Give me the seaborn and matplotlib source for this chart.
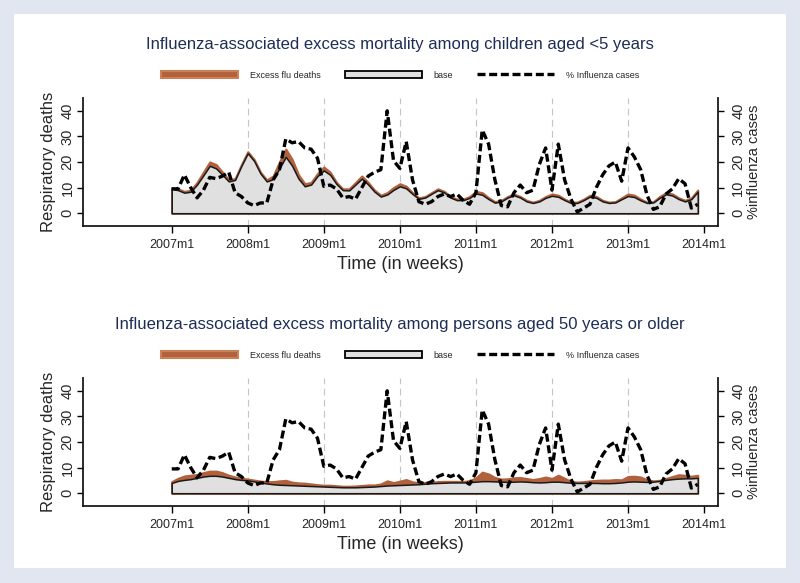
import numpy as np
import pandas as pd
import matplotlib
matplotlib.use("Agg")
import matplotlib.pyplot as plt
import seaborn as sns
from matplotlib.patches import Patch, Rectangle
from matplotlib.lines import Line2D

# ---------------- data ----------------
months = list(range(84))  # 2007m1 .. 2013m12
tick_pos = [0, 12, 24, 36, 48, 60, 72, 84]
tick_labels = ["2007m1", "2008m1", "2009m1", "2010m1", "2011m1", "2012m1", "2013m1", "2014m1"]
y_ticks = [0, 10, 20, 30, 40]

flu_pct = [9.5, 9.5, 15, 10, 6, 9, 14, 13.5, 14.5, 16, 8, 6.5,
           4, 3, 4, 4, 13, 17, 29, 27.5, 28, 25.5, 25, 21.5,
           10.5, 11, 9.5, 6, 6.5, 5.5, 10, 14.5, 16, 17, 40, 20.5,
           17.5, 28, 13, 4.5, 3.5, 4.5, 6.5, 7.5, 6.5, 7.5, 5, 3.5,
           8, 32.5, 27, 13, 3, 2.5, 8, 11, 8, 9, 19, 25.5,
           9, 27, 13, 5.5, 0.5, 2, 3.5, 10, 15, 18.5, 20, 12.5,
           25.5, 22, 17, 7, 1.5, 2.5, 7.5, 9.5, 13.5, 11.5, 2, 3.5]

child_base = [9.5, 9.0, 8.0, 8.4, 11.2, 14.8, 18.5, 17.5, 15.0, 12.4, 13.0, 18.5,
              23.4, 20.4, 15.5, 12.4, 13.3, 17.5, 22.0, 18.5, 13.5, 10.5, 11.2, 14.5,
              16.7, 15.0, 11.4, 9.0, 8.9, 11.2, 13.5, 11.2, 8.4, 6.5, 7.3, 9.1,
              10.5, 9.7, 7.5, 5.6, 6.1, 7.6, 9.0, 8.1, 6.1, 5.1, 5.1, 6.0,
              7.7, 7.2, 5.5, 4.1, 4.6, 6.1, 7.0, 6.1, 4.6, 4.0, 4.6, 6.0,
              6.8, 6.4, 5.1, 4.0, 4.0, 5.1, 6.5, 6.0, 4.6, 4.0, 4.2, 5.5,
              6.7, 6.3, 5.0, 4.0, 4.2, 6.0, 7.4, 6.9, 5.5, 4.6, 5.5, 8.4]
child_excess = [0.5, 0.5, 0.5, 0.6, 0.8, 1.2, 1.5, 1.5, 1.0, 0.6, 0.5, 0.5,
                0.6, 0.6, 0.5, 0.6, 1.2, 2.5, 3.0, 2.5, 1.5, 1.0, 0.8, 1.0,
                1.3, 1.0, 0.6, 0.5, 0.6, 0.8, 1.0, 0.8, 0.6, 0.5, 0.7, 0.9,
                1.0, 0.8, 0.5, 0.4, 0.4, 0.4, 0.5, 0.4, 0.4, 0.4, 0.4, 0.5,
                0.8, 0.8, 0.5, 0.4, 0.4, 0.4, 0.5, 0.4, 0.4, 0.3, 0.4, 0.5,
                0.7, 0.6, 0.4, 0.3, 0.3, 0.4, 0.5, 0.5, 0.4, 0.3, 0.3, 0.5,
                0.8, 0.7, 0.5, 0.3, 0.3, 0.5, 0.6, 0.6, 0.5, 0.4, 0.5, 0.6]

old_base = [4.0, 4.8, 5.2, 5.5, 6.0, 6.5, 6.8, 6.8, 6.5, 6.0, 5.5, 5.2,
            5.0, 4.6, 4.2, 3.8, 3.5, 3.3, 3.2, 3.1, 3.0, 2.9, 2.8, 2.7,
            2.6, 2.5, 2.4, 2.3, 2.3, 2.3, 2.4, 2.5, 2.6, 2.8, 3.0, 3.1,
            3.2, 3.3, 3.4, 3.5, 3.7, 3.9, 4.0, 4.1, 4.2, 4.2, 4.2, 4.3,
            4.5, 4.7, 4.7, 4.6, 4.5, 4.4, 4.5, 4.6, 4.5, 4.3, 4.2, 4.3,
            4.5, 4.5, 4.3, 4.1, 4.0, 4.0, 4.0, 4.0, 3.9, 3.9, 4.0, 4.2,
            4.5, 4.6, 4.5, 4.4, 4.5, 4.8, 5.2, 5.5, 5.7, 5.8, 5.8, 6.0]
old_excess = [0.5, 1.0, 1.5, 1.5, 1.3, 1.5, 1.8, 1.8, 1.5, 1.0, 0.8, 0.6,
              0.5, 0.5, 0.5, 0.7, 1.0, 1.5, 1.8, 1.2, 1.0, 1.0, 0.8, 0.6,
              0.5, 0.6, 0.5, 0.4, 0.4, 0.5, 0.6, 0.7, 0.6, 0.8, 1.8, 1.0,
              1.5, 2.0, 1.0, 0.5, 0.5, 0.3, 0.5, 0.5, 0.4, 0.4, 0.3, 0.6,
              1.5, 3.5, 2.8, 1.5, 1.0, 1.2, 1.5, 1.5, 1.2, 1.0, 1.5, 2.0,
              1.2, 2.5, 1.5, 0.5, 0.3, 0.5, 0.8, 1.0, 1.2, 1.2, 1.3, 1.0,
              2.0, 2.0, 1.8, 0.8, 0.3, 0.2, 0.5, 1.0, 1.5, 1.2, 0.8, 1.0]

titles = ["Influenza-associated excess mortality among children aged <5 years",
          "Influenza-associated excess mortality among persons aged 50 years or older"]
legend_labels = ["Excess flu deaths", "base", "% Influenza cases"]

# ---------------- style ----------------
sns.set_style("ticks")
REG = ["Liberation Sans", "DejaVu Sans"]
plt.rcParams["font.family"] = REG

BROWN = "#b3613c"
BROWN_EDGE = "#c98157"
GRAY = "#e0e0e0"
NAVY = "#1e2d55"
DASH = (0, (2.4, 1.1))

W, H = 800, 583
fig = plt.figure(figsize=(W / 100, H / 100), dpi=100)
fig.patch.set_facecolor("#e1e6f0")
fig.add_artist(Rectangle((14 / W, 1 - 568 / H), 772 / W, 554 / H,
                         transform=fig.transFigure, facecolor="white",
                         edgecolor="none", zorder=-10))


def panel(top_px, base, excess, title):
    left_px, right_px = 83, 718
    bottom_px = top_px + 128
    ax = fig.add_axes([left_px / W, 1 - bottom_px / H, (right_px - left_px) / W, 128 / H])
    ax.set_facecolor("none")
    df = pd.DataFrame({"month": months, "base": base, "excess": excess, "flu": flu_pct})
    df["total"] = df["base"] + df["excess"]

    for m in tick_pos[1:-1]:
        ax.axvline(m, color="#c4c4c4", lw=0.8, ls=(0, (6, 4)), zorder=0)

    ax.fill_between(df["month"], 0, df["total"], facecolor=BROWN, edgecolor=BROWN,
                    lw=1.6, zorder=2)
    ax.fill_between(df["month"], 0, df["base"], facecolor=GRAY, edgecolor="#1a1a1a",
                    lw=1.1, zorder=3)

    ax.set_xlim(-14, 86.2)
    ax.set_ylim(-5, 45)
    ax.set_xticks(tick_pos)
    ax.set_xticklabels(tick_labels, fontsize=9)
    ax.set_yticks(y_ticks)
    ax.set_yticklabels([str(v) for v in y_ticks], fontsize=10.5,
                       rotation=90, va="center")
    ax.tick_params(axis="x", length=5, width=1.0, color="black", pad=4)
    ax.tick_params(axis="y", length=4.5, width=1.0, color="black", pad=1.5)
    for s in ["left", "bottom"]:
        ax.spines[s].set_linewidth(1.3)
        ax.spines[s].set_color("#1a1a1a")
    ax.spines["top"].set_visible(False)
    ax.spines["right"].set_visible(False)
    ax.set_ylabel("Respiratory deaths", fontsize=12, labelpad=3)
    ax.set_xlabel("Time (in weeks)", fontsize=13, labelpad=4)

    ax2 = ax.twinx()
    ax2.set_ylim(-5, 45)
    sns.lineplot(data=df, x="month", y="flu", ax=ax2, color="black", lw=2.4,
                 zorder=5)
    ax2.lines[0].set_linestyle(DASH)
    ax2.set_xlim(-14, 86.2)
    ax2.set_yticks(y_ticks)
    ax2.set_yticklabels([str(v) for v in y_ticks], fontsize=10.5,
                        rotation=90, va="center")
    ax2.tick_params(axis="y", length=4.5, width=1.0, color="black", pad=5)
    ax2.spines["right"].set_linewidth(1.3)
    ax2.spines["right"].set_color("#1a1a1a")
    for s in ["left", "top", "bottom"]:
        ax2.spines[s].set_visible(False)
    ax2.set_ylabel("%influenza cases", fontsize=10.5, labelpad=1)
    ax2.set_zorder(ax.get_zorder() + 1)
    ax2.patch.set_visible(False)

    # title
    fig.text(0.5, 1 - (top_px - 53) / H, title, ha="center", va="center",
             fontsize=12, color=NAVY)

    handles = [Patch(facecolor=BROWN, edgecolor=BROWN_EDGE, lw=1.5),
               Patch(facecolor=GRAY, edgecolor="black", lw=1.3),
               Line2D([0], [0], color="black", lw=2.4, ls=DASH)]
    fig.legend(handles, legend_labels,
               loc="center", bbox_to_anchor=(400 / W, 1 - (top_px - 23) / H),
               ncol=3, frameon=False, fontsize=6.5, handlelength=8.5,
               handleheight=0.9, handletextpad=1.3, columnspacing=2.7)
    return ax


panel(98, child_base, child_excess, titles[0])
panel(378, old_base, old_excess, titles[1])

fig.savefig("out.png", dpi=100, facecolor=fig.get_facecolor())
